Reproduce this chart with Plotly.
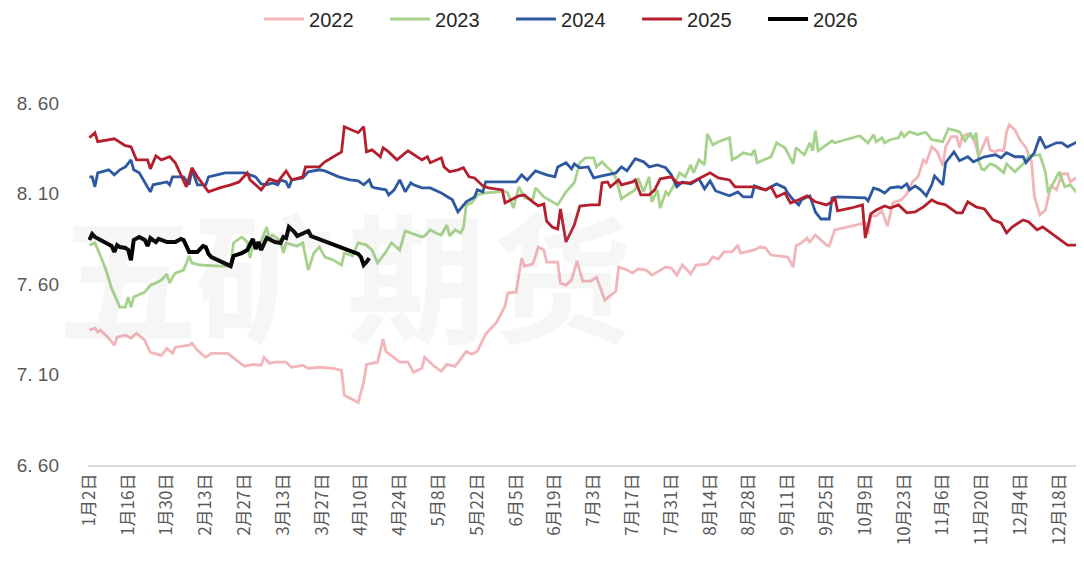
import numpy as np
import pandas as pd
import plotly.graph_objects as go

# day-of-year positions (non-leap calendar) and rates read for each year
days_2022 = [2, 4, 5, 6, 9, 11, 12, 15, 17, 19, 22, 24, 28, 30, 32, 33, 38, 39, 41, 44, 46, 52, 55, 58, 61, 64, 65, 67, 69, 73,
             75, 79, 81, 85, 90, 93, 94, 99, 101, 102, 106, 108, 109, 112, 114, 117, 119, 122, 123, 126, 129, 131, 134, 138, 140, 142, 145, 149, 152, 153,
             156, 158, 159, 162, 164, 166, 167, 171, 172, 174, 176, 178, 180, 183, 185, 188, 192, 193, 196, 198, 200, 203, 205, 210, 212, 214, 216, 219, 221, 225,
             227, 229, 231, 234, 236, 237, 242, 244, 246, 248, 251, 254, 256, 257, 259, 261, 262, 264, 268, 269, 271, 282, 283, 284, 286, 288, 290, 292, 295, 297,
             299, 301, 303, 304, 306, 308, 310, 311, 313, 315, 316, 317, 319, 321, 323, 324, 326, 327, 329, 330, 332, 333, 334, 336, 338, 340, 342, 343, 345, 347,
             349, 351, 353, 355, 356, 358, 360]
rate_2022 = [7.345, 7.356, 7.334, 7.345, 7.301, 7.262, 7.306, 7.317, 7.301, 7.328, 7.289, 7.223, 7.206, 7.245, 7.217, 7.251, 7.262, 7.273, 7.234, 7.195, 7.217, 7.217, 7.179, 7.145, 7.156, 7.151, 7.195, 7.162, 7.168, 7.168,
             7.140, 7.151, 7.134, 7.140, 7.134, 7.123, 6.985, 6.946, 7.057, 7.156, 7.168, 7.295, 7.228, 7.190, 7.168, 7.168, 7.112, 7.134, 7.195, 7.151, 7.118, 7.156, 7.145, 7.228, 7.212, 7.228, 7.323, 7.389, 7.478, 7.550,
             7.555, 7.743, 7.699, 7.710, 7.804, 7.788, 7.721, 7.721, 7.605, 7.594, 7.622, 7.727, 7.616, 7.616, 7.638, 7.511, 7.561, 7.694, 7.677, 7.660, 7.683, 7.677, 7.649, 7.694, 7.688, 7.649, 7.705, 7.655, 7.705, 7.710,
             7.749, 7.738, 7.777, 7.777, 7.815, 7.771, 7.788, 7.804, 7.799, 7.760, 7.755, 7.749, 7.694, 7.810, 7.827, 7.854, 7.832, 7.871, 7.815, 7.810, 7.899, 7.937, 7.876, 7.976, 7.976, 8.004, 7.920, 8.048, 8.065, 8.098,
             8.164, 8.192, 8.286, 8.270, 8.358, 8.330, 8.253, 8.358, 8.414, 8.414, 8.353, 8.414, 8.430, 8.408, 8.308, 8.347, 8.414, 8.341, 8.330, 8.341, 8.336, 8.441, 8.480, 8.452, 8.391, 8.353, 8.275, 8.087, 7.982, 8.009,
             8.142, 8.120, 8.209, 8.209, 8.164, 8.186, 8.203]

days_2023 = [2, 4, 6, 8, 10, 13, 15, 16, 17, 18, 22, 24, 26, 28, 30, 31, 32, 33, 36, 38, 39, 42, 49, 53, 54, 57, 59, 60, 61, 63,
             66, 67, 68, 71, 72, 73, 77, 79, 81, 83, 85, 87, 90, 93, 94, 97, 99, 102, 104, 106, 109, 111, 114, 116, 119, 122, 123, 125, 127, 129,
             131, 132, 134, 136, 137, 138, 140, 142, 145, 150, 151, 153, 155, 157, 159, 162, 163, 166, 171, 174, 177, 179, 181, 184, 185, 187, 189, 190, 192, 193,
             194, 196, 199, 200, 202, 204, 205, 207, 208, 210, 211, 213, 215, 217, 219, 220, 222, 224, 225, 227, 229, 233, 234, 236, 238, 241, 242, 243, 248, 250,
             253, 254, 256, 257, 260, 262, 263, 264, 265, 270, 271, 280, 283, 285, 286, 288, 289, 291, 294, 295, 296, 298, 301, 303, 304, 306, 310, 312, 316, 318,
             320, 321, 322, 323, 324, 325, 327, 329, 332, 333, 336, 339, 341, 345, 347, 348, 350, 352, 354, 356, 359, 360]
rate_2023 = [7.815, 7.827, 7.755, 7.677, 7.577, 7.472, 7.472, 7.528, 7.472, 7.528, 7.555, 7.594, 7.605, 7.622, 7.655, 7.605, 7.638, 7.660, 7.677, 7.755, 7.716, 7.705, 7.699, 7.699, 7.827, 7.860, 7.832, 7.744, 7.827, 7.799,
             7.915, 7.843, 7.871, 7.838, 7.771, 7.827, 7.810, 7.827, 7.677, 7.771, 7.804, 7.749, 7.732, 7.705, 7.771, 7.755, 7.827, 7.815, 7.788, 7.716, 7.777, 7.827, 7.788, 7.893, 7.876, 7.860, 7.865, 7.899, 7.882, 7.871,
             7.926, 7.865, 7.899, 7.882, 7.910, 8.037, 8.048, 8.092, 8.103, 8.109, 8.120, 8.103, 8.020, 8.137, 8.076, 8.065, 8.131, 8.081, 8.037, 8.109, 8.159, 8.270, 8.297, 8.297, 8.247, 8.275, 8.242, 8.231, 8.186, 8.120,
             8.070, 8.092, 8.120, 8.186, 8.109, 8.192, 8.054, 8.120, 8.020, 8.109, 8.092, 8.148, 8.214, 8.192, 8.258, 8.214, 8.286, 8.258, 8.430, 8.369, 8.386, 8.408, 8.286, 8.303, 8.325, 8.314, 8.341, 8.270, 8.303, 8.380,
             8.353, 8.325, 8.264, 8.353, 8.314, 8.380, 8.336, 8.447, 8.336, 8.391, 8.380, 8.419, 8.380, 8.425, 8.386, 8.408, 8.380, 8.397, 8.408, 8.436, 8.414, 8.441, 8.425, 8.436, 8.436, 8.397, 8.386, 8.458, 8.441, 8.391,
             8.436, 8.397, 8.436, 8.275, 8.236, 8.231, 8.264, 8.253, 8.214, 8.264, 8.220, 8.264, 8.308, 8.314, 8.220, 8.103, 8.164, 8.220, 8.137, 8.148, 8.092, 8.120]

days_2024 = [2, 3, 4, 5, 9, 11, 13, 15, 17, 18, 20, 24, 25, 30, 31, 32, 36, 38, 39, 41, 44, 45, 51, 58, 62, 64, 66, 68, 70, 71,
             73, 74, 75, 79, 81, 85, 87, 92, 96, 99, 101, 103, 104, 105, 109, 110, 112, 114, 116, 118, 119, 122, 125, 129, 133, 135, 138, 141, 142, 144,
             145, 150, 156, 158, 160, 163, 167, 170, 171, 174, 176, 177, 179, 182, 184, 187, 189, 192, 194, 196, 199, 202, 204, 207, 210, 212, 214, 216, 219, 222,
             224, 226, 228, 233, 236, 238, 241, 242, 246, 249, 250, 253, 254, 256, 258, 259, 262, 264, 266, 269, 270, 272, 282, 283, 285, 287, 289, 291, 294, 295,
             297, 298, 300, 302, 304, 306, 307, 310, 311, 314, 316, 319, 321, 325, 329, 331, 333, 336, 339, 340, 343, 345, 347, 351, 353, 355, 360]
rate_2024 = [8.192, 8.192, 8.137, 8.214, 8.231, 8.203, 8.231, 8.247, 8.286, 8.231, 8.214, 8.109, 8.148, 8.164, 8.148, 8.192, 8.192, 8.148, 8.231, 8.148, 8.148, 8.192, 8.214, 8.214, 8.192, 8.153, 8.148, 8.159, 8.148, 8.175,
             8.164, 8.131, 8.175, 8.186, 8.220, 8.231, 8.225, 8.192, 8.175, 8.170, 8.148, 8.175, 8.137, 8.131, 8.120, 8.092, 8.120, 8.175, 8.109, 8.159, 8.148, 8.131, 8.131, 8.103, 8.065, 7.998, 8.054, 8.081, 8.120, 8.109,
             8.164, 8.164, 8.164, 8.203, 8.175, 8.225, 8.203, 8.192, 8.247, 8.270, 8.236, 8.264, 8.242, 8.247, 8.186, 8.197, 8.203, 8.214, 8.247, 8.225, 8.292, 8.275, 8.247, 8.258, 8.242, 8.203, 8.137, 8.164, 8.153, 8.181,
             8.126, 8.170, 8.114, 8.087, 8.109, 8.081, 8.081, 8.142, 8.120, 8.148, 8.153, 8.131, 8.103, 8.065, 8.037, 8.065, 8.087, 7.998, 7.959, 7.959, 8.076, 8.081, 8.076, 8.059, 8.131, 8.120, 8.103, 8.131, 8.137, 8.131,
             8.153, 8.120, 8.142, 8.120, 8.087, 8.148, 8.197, 8.148, 8.270, 8.330, 8.281, 8.303, 8.275, 8.303, 8.314, 8.297, 8.325, 8.303, 8.303, 8.270, 8.325, 8.414, 8.353, 8.380, 8.380, 8.358, 8.397]

days_2025 = [2, 4, 5, 11, 15, 17, 19, 23, 24, 26, 28, 31, 33, 37, 39, 41, 45, 49, 53, 56, 59, 60, 64, 67, 70, 73, 75, 79, 80, 85,
             87, 93, 94, 99, 101, 102, 104, 107, 108, 110, 113, 117, 122, 124, 125, 129, 130, 132, 135, 137, 139, 141, 144, 146, 151, 152, 157, 159, 162, 164,
             166, 167, 169, 171, 172, 174, 177, 179, 183, 186, 187, 189, 190, 193, 194, 198, 199, 201, 204, 206, 208, 212, 214, 219, 221, 226, 229, 233, 235, 242,
             246, 248, 250, 253, 255, 258, 261, 264, 268, 270, 271, 272, 277, 281, 282, 284, 286, 289, 291, 294, 297, 300, 303, 306, 308, 311, 315, 317, 319, 322,
             325, 328, 331, 333, 335, 339, 341, 344, 346, 351, 355, 359, 360]
rate_2025 = [8.408, 8.436, 8.386, 8.402, 8.364, 8.358, 8.286, 8.286, 8.236, 8.308, 8.286, 8.303, 8.270, 8.137, 8.242, 8.192, 8.109, 8.131, 8.148, 8.164, 8.214, 8.175, 8.120, 8.181, 8.164, 8.225, 8.175, 8.192, 8.247, 8.247,
             8.275, 8.330, 8.469, 8.436, 8.469, 8.330, 8.341, 8.303, 8.353, 8.330, 8.286, 8.336, 8.286, 8.303, 8.270, 8.297, 8.247, 8.220, 8.231, 8.242, 8.192, 8.186, 8.142, 8.131, 8.120, 8.048, 8.087, 8.092, 8.054, 8.031,
             8.042, 7.948, 7.915, 7.904, 8.015, 7.832, 7.926, 8.031, 8.037, 8.037, 8.159, 8.164, 8.137, 8.175, 8.148, 8.164, 8.175, 8.092, 8.092, 8.120, 8.181, 8.192, 8.159, 8.159, 8.175, 8.214, 8.186, 8.175, 8.137, 8.137,
             8.120, 8.137, 8.081, 8.103, 8.048, 8.065, 8.087, 8.054, 8.037, 8.054, 8.081, 8.004, 8.020, 8.037, 7.854, 7.987, 8.009, 8.031, 8.020, 8.037, 7.993, 7.998, 8.026, 8.065, 8.048, 8.037, 7.993, 7.993, 8.054, 8.026,
             8.015, 7.954, 7.937, 7.882, 7.915, 7.954, 7.943, 7.899, 7.915, 7.860, 7.815, 7.815, 7.854]

days_2026 = [2, 3, 4, 6, 8, 10, 11, 12, 13, 15, 16, 17, 18, 20, 22, 23, 24, 26, 27, 30, 33, 35, 36, 38, 41, 43, 44, 45, 46, 53,
             54, 57, 59, 61, 62, 63, 64, 66, 69, 71, 72, 73, 74, 76, 77, 81, 82, 84, 88, 93, 99, 100, 101, 102, 103]
rate_2026 = [7.843, 7.876, 7.860, 7.843, 7.832, 7.810, 7.777, 7.815, 7.804, 7.799, 7.788, 7.732, 7.843, 7.860, 7.843, 7.810, 7.854, 7.832, 7.849, 7.832, 7.832, 7.849, 7.843, 7.777, 7.777, 7.810, 7.804, 7.766, 7.749, 7.699,
             7.755, 7.771, 7.788, 7.849, 7.793, 7.832, 7.788, 7.854, 7.832, 7.827, 7.860, 7.854, 7.915, 7.887, 7.865, 7.893, 7.865, 7.854, 7.827, 7.799, 7.766, 7.749, 7.705, 7.721, 7.743]

tick_dates = ["01-02", "01-16", "01-30", "02-13", "02-27", "03-13", "03-27", "04-10", "04-24", "05-08", "05-22", "06-05", "06-19",
              "07-03", "07-17", "07-31", "08-14", "08-28", "09-11", "09-25", "10-09", "10-23", "11-06", "11-20", "12-04", "12-18"]
tick_labels = ["1月2日", "1月16日", "1月30日", "2月13日", "2月27日", "3月13日", "3月27日", "4月10日", "4月24日", "5月8日", "5月22日", "6月5日", "6月19日",
               "7月3日", "7月17日", "7月31日", "8月14日", "8月28日", "9月11日", "9月25日", "10月9日", "10月23日", "11月6日", "11月20日", "12月4日", "12月18日"]
y_ticks = [6.6, 7.1, 7.6, 8.1, 8.6]
y_labels = ["6. 60", "7. 10", "7. 60", "8. 10", "8. 60"]

base = pd.Timestamp("2023-01-01")


def to_dates(days):
    return base + pd.to_timedelta(np.array(days) - 1, unit="D")


series = [
    ("2022", days_2022, rate_2022, "#F2B5B9", 2.8),
    ("2023", days_2023, rate_2023, "#A6D28C", 2.8),
    ("2024", days_2024, rate_2024, "#2E58A0", 2.8),
    ("2025", days_2025, rate_2025, "#B41E2D", 2.8),
    ("2026", days_2026, rate_2026, "#000000", 4),
]

fig = go.Figure()
for name, d, v, color, width in series:
    fig.add_trace(go.Scatter(x=to_dates(d), y=v, name=name, mode="lines",
                             line=dict(color=color, width=width)))

# watermark, one character per annotation so each box stays tight
watermark = [("五", 0.040), ("矿", 0.178), ("期", 0.330), ("货", 0.476)]
marks = [dict(text=ch, xref="paper", yref="paper", x=xp, y=0.535,
              xanchor="center", yanchor="middle", showarrow=False,
              font=dict(family="Noto Sans CJK SC", size=140, color="rgba(150,150,150,0.09)", weight="bold"))
         for ch, xp in watermark]

# the page body adds 8px on the top/left, so the figure is 8px smaller
fig.update_layout(
    width=1076,
    height=560,
    template="plotly_white",
    paper_bgcolor="white",
    plot_bgcolor="white",
    margin=dict(l=80, r=0, t=95, b=103, autoexpand=False),
    font=dict(family="Noto Sans CJK SC, Liberation Sans, sans-serif", color="#595959"),
    showlegend=True,
    legend=dict(orientation="h", x=0.488, xanchor="center", y=1.232, yanchor="middle",
                font=dict(family="Liberation Sans, Arial, sans-serif", size=20, color="#262626"),
                itemwidth=40, entrywidth=71, entrywidthmode="pixels", bgcolor="rgba(0,0,0,0)"),
    annotations=marks,
)
fig.update_xaxes(
    type="date",
    range=["2023-01-01 12:00", "2023-12-26 22:30"],
    tickvals=to_dates([(pd.Timestamp("2023-" + t) - base).days + 1 for t in tick_dates]),
    ticktext=tick_labels,
    tickangle=-90,
    tickfont=dict(size=17, color="#595959"),
    showgrid=False,
    zeroline=False,
    showline=True,
    linecolor="#D9D9D9",
    linewidth=1.5,
    ticks="",
    automargin=False,
)
fig.update_yaxes(
    range=[6.6, 8.6],
    tickvals=y_ticks,
    ticktext=y_labels,
    tickfont=dict(size=19, color="#595959", family="Liberation Sans, Arial, sans-serif"),
    ticklabelstandoff=28,
    showgrid=False,
    zeroline=False,
    showline=False,
    ticks="",
    automargin=False,
)

fig.write_html("out.html")
